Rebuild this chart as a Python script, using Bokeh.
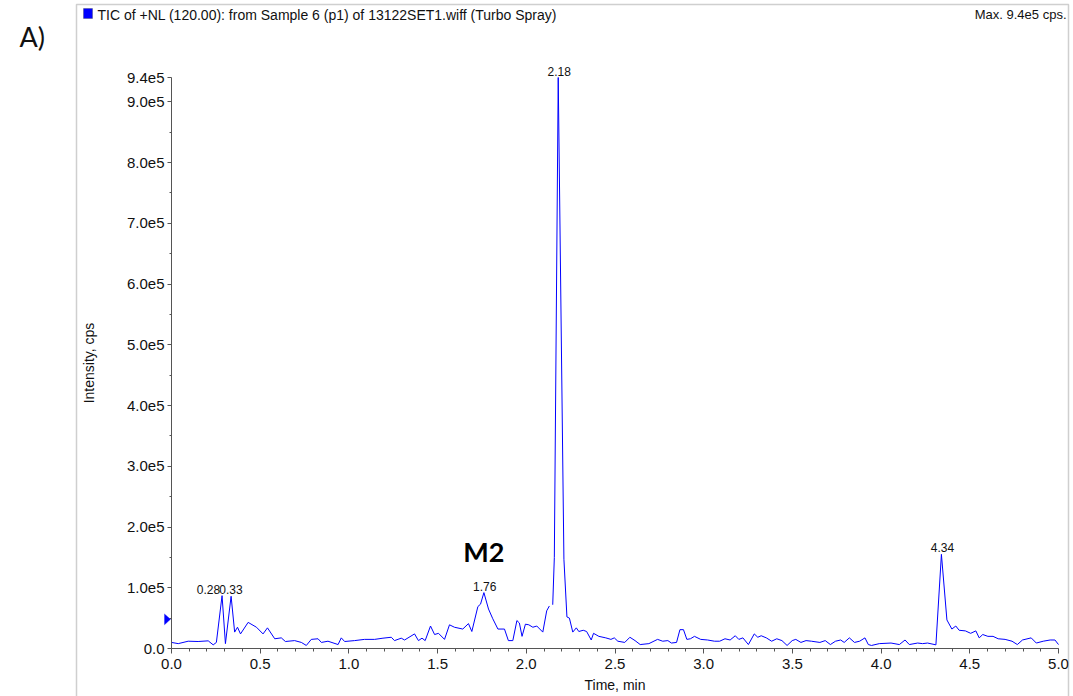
from bokeh.plotting import figure
from bokeh.models import Range1d, FixedTicker, Label, BoxAnnotation, PolyAnnotation
from bokeh.embed import file_html
from bokeh.resources import INLINE

NaN = float("nan")

# ---------------- data ----------------
time_min = [
    0.000, 0.038, 0.094, 0.150, 0.207, 0.235, 0.253, 0.285, 0.304, 0.336,
    0.356, 0.372, 0.389, 0.432, 0.479, 0.516, 0.541, 0.582, 0.619, 0.642,
    0.694, 0.732, 0.760, 0.788, 0.826, 0.845, 0.882, 0.939, 0.957, 0.976,
    1.032, 1.088, 1.145, 1.192, 1.239, 1.257, 1.295, 1.314, 1.370, 1.392,
    1.412, 1.430, 1.460, 1.483, 1.505, 1.539, 1.567, 1.595, 1.642, 1.674,
    1.693, 1.727, 1.742, 1.761, 1.787, 1.811, 1.840, 1.877, 1.899, 1.924,
    1.947, 1.961, 1.976, 1.995, 2.014, 2.037, 2.059, 2.093, 2.115, 2.130,
    NaN,
    2.149, 2.158, 2.180, 2.212, 2.229, 2.243, 2.262, 2.282, 2.296, 2.321,
    2.340, 2.366, 2.379, 2.409, 2.448, 2.477, 2.496, 2.516, 2.555, 2.584,
    2.613, 2.642, 2.691, 2.740, 2.769, 2.798, 2.818, 2.847, 2.866, 2.886,
    2.905, 2.925, 2.948, 2.983, 3.022, 3.061, 3.090, 3.120, 3.149, 3.178,
    3.198, 3.221, 3.252, 3.285, 3.305, 3.324, 3.353, 3.383, 3.412, 3.441,
    3.470, 3.499, 3.519, 3.548, 3.577, 3.607, 3.655, 3.685, 3.714, 3.743,
    3.772, 3.792, 3.821, 3.850, 3.879, 3.909, 3.928, 3.946, 3.990, 4.056,
    4.103, 4.135, 4.159, 4.206, 4.234, 4.262, 4.309, 4.340, 4.371, 4.399,
    4.421, 4.440, 4.475, 4.505, 4.534, 4.553, 4.573, 4.602, 4.631, 4.660,
    4.699, 4.738, 4.768, 4.797, 4.846, 4.875, 4.914, 4.953, 4.980, 5.000,
]
intensity_cps = [
    10000, 8000, 12000, 11500, 12600, 6000, 10000, 87000, 8000, 86000,
    27000, 35000, 24000, 43000, 35000, 24000, 34000, 16000, 17500, 11500,
    13000, 10000, 5000, 15000, 16000, 10000, 12000, 6500, 17500, 11500,
    13000, 15000, 15000, 17000, 18500, 13000, 17000, 14000, 24000, 13000,
    17000, 13000, 37000, 23000, 25000, 15000, 39000, 35000, 32000, 41000,
    28000, 69000, 73000, 92000, 65000, 49000, 32000, 32000, 13000, 13000,
    46000, 42000, 20000, 40000, 39000, 35000, 37000, 27000, 62000, 70000,
    NaN,
    72000, 150000, 940000, 147000, 52000, 50000, 27000, 34000, 28000, 30000,
    28000, 14000, 25000, 20000, 17500, 15000, 17500, 12000, 10000, 18500,
    13000, 6500, 8000, 15000, 12000, 13000, 9000, 10000, 31000, 31000,
    15000, 16000, 20000, 15000, 14000, 12000, 12000, 16000, 14000, 21000,
    15000, 17500, 6500, 24000, 18500, 21000, 17500, 12000, 16000, 13000,
    5000, 13000, 15000, 10000, 13000, 12000, 10000, 13000, 6500, 12000,
    14000, 10000, 17500, 10000, 12000, 17500, 6500, 5000, 8000, 9000,
    6500, 14000, 6500, 9000, 8000, 9000, 6000, 155000, 47000, 32000,
    37000, 30000, 29000, 25000, 29000, 17500, 23000, 20000, 20000, 16000,
    15000, 12000, 6500, 14000, 17500, 9000, 12000, 14000, 14000, 6500,
]

peak_times = [0.28, 0.33, 1.76, 2.18, 4.34]
peak_heights = [87000, 86000, 92000, 940000, 155000]
peak_labels = ["0.28", "0.33", "1.76", "2.18", "4.34"]

x_ticks = [0.0, 0.5, 1.0, 1.5, 2.0, 2.5, 3.0, 3.5, 4.0, 4.5, 5.0]
x_tick_labels = ["0.0", "0.5", "1.0", "1.5", "2.0", "2.5", "3.0", "3.5", "4.0", "4.5", "5.0"]
x_minor = [round(i * 0.1, 1) for i in range(51)]

y_ticks = [0, 100000, 200000, 300000, 400000, 500000, 600000, 700000, 800000, 900000, 940000]
y_tick_labels = ["0.0", "1.0e5", "2.0e5", "3.0e5", "4.0e5", "5.0e5", "6.0e5", "7.0e5",
                 "8.0e5", "9.0e5", "9.4e5"]
y_minor = [50000 + 100000 * i for i in range(9)]

threshold_level = 48000
t_start, t_end = 0.0, 5.0
max_intensity = 940000

title_text = "TIC of +NL (120.00): from Sample 6 (p1) of 13122SET1.wiff (Turbo Spray)"
max_text = "Max. 9.4e5 cps."

# ---------------- layout geometry (pixels of the page) ----------------
W, H = 1073, 696
X0_PX, X1_PX = 171, 1058      # where t_start / t_end sit
Y0_PX, Y1_PX = 648, 77        # where 0 / max_intensity sit
SX = (X1_PX - X0_PX) / (t_end - t_start)
SY = (Y0_PX - Y1_PX) / max_intensity


def xpx(px):
    return t_start + (px - X0_PX) / SX


def ypx(py):
    return (Y0_PX - py) / SY


FONT = "Liberation Sans"
AX = "#555555"
TXT = "#111111"

p = figure(width=W, height=H, output_backend="svg", toolbar_location=None,
           x_range=Range1d(xpx(0), xpx(W)), y_range=Range1d(ypx(H), ypx(0)),
           min_border=0, min_border_left=0, min_border_right=0,
           min_border_top=0, min_border_bottom=0)
p.title.visible = False
p.grid.visible = False
p.outline_line_color = None
p.background_fill_color = "white"
p.border_fill_color = "white"

p.xaxis.fixed_location = 0
p.yaxis.fixed_location = t_start
p.xaxis.bounds = (t_start, t_end)
p.yaxis.bounds = (0, max_intensity)

p.xaxis.ticker = FixedTicker(ticks=x_ticks, minor_ticks=x_minor)
p.xaxis.major_label_overrides = dict(zip(x_ticks, x_tick_labels))
p.yaxis.ticker = FixedTicker(ticks=y_ticks, minor_ticks=y_minor)
p.yaxis.major_label_overrides = dict(zip(y_ticks, y_tick_labels))

for ax in (p.xaxis, p.yaxis):
    ax.axis_line_color = AX
    ax.major_tick_line_color = AX
    ax.minor_tick_line_color = AX
    ax.major_tick_in = 0
    ax.minor_tick_in = 0
    ax.major_label_text_font = FONT
    ax.major_label_text_font_size = "15px"
    ax.major_label_text_color = TXT
    ax.axis_label_text_font = FONT
    ax.axis_label_text_font_size = "14px"
    ax.axis_label_text_font_style = "normal"
    ax.axis_label_text_color = TXT

p.xaxis.major_tick_out = 5
p.xaxis.minor_tick_out = 3
p.xaxis.major_label_standoff = 5
p.xaxis.axis_label = "Time, min"
p.xaxis.axis_label_standoff = 5

p.yaxis.major_tick_out = 4
p.yaxis.minor_tick_out = 2
p.yaxis.major_label_standoff = 3
p.yaxis.axis_label = "Intensity, cps"
p.yaxis.axis_label_standoff = 27

p.line(time_min, intensity_cps, line_color="#0000ff", line_width=1)

for t, h, s in zip(peak_times, peak_heights, peak_labels):
    align = "right" if s == "0.28" else "center"
    xo = -1 if s == "0.28" else 1
    p.add_layout(Label(x=t, y=h, text=s, text_align=align, text_baseline="bottom",
                       x_offset=xo, y_offset=2, text_font=FONT, text_font_size="12px",
                       text_color=TXT))

p.add_layout(Label(x=1.76, y=160000, text="M2", text_align="center", text_baseline="middle",
                   text_font="Lato", text_font_style="bold", text_font_size="27px",
                   text_color="#000000"))

# threshold marker on the y axis
p.add_layout(PolyAnnotation(xs=[xpx(164), xpx(164), xpx(170)],
                            ys=[threshold_level - 9000, threshold_level + 9000, threshold_level],
                            fill_color="#0000ff", fill_alpha=1,
                            line_color="#0000ff", line_width=1))

# outer panel box
p.add_layout(BoxAnnotation(left=xpx(76), right=xpx(1068), top=ypx(4), bottom=ypx(H + 10),
                           fill_alpha=0, line_color="#5f5f5f", line_width=1.5))
# blue square of the header
p.add_layout(BoxAnnotation(left=xpx(83), right=xpx(92), top=ypx(8), bottom=ypx(18),
                           fill_color="#0000ff", fill_alpha=1, line_color="#333333", line_width=1))

p.add_layout(Label(x=xpx(97), y=ypx(14), text=title_text,
                   text_align="left", text_baseline="middle", text_font=FONT,
                   text_font_size="14px", text_color=TXT))
p.add_layout(Label(x=xpx(1066), y=ypx(14), text=max_text,
                   text_align="right", text_baseline="middle", text_font=FONT,
                   text_font_size="13px", text_color=TXT))
p.add_layout(Label(x=xpx(19), y=ypx(36), text="A)",
                   text_align="left", text_baseline="middle", text_font="Lato",
                   text_font_size="27px", text_color=TXT))

open("out.html", "w").write(file_html(p, INLINE))
